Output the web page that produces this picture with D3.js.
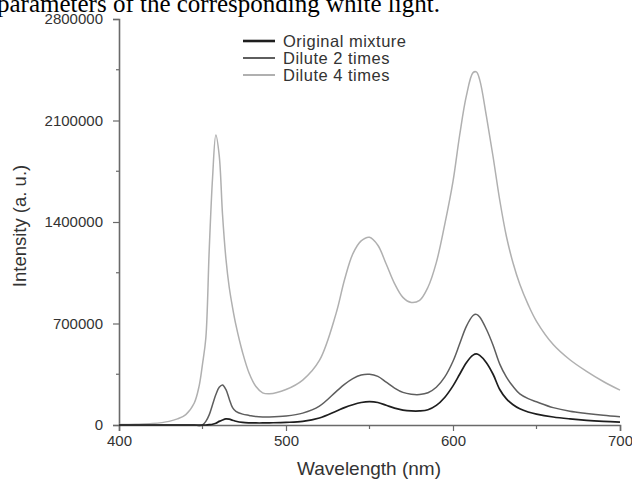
<!DOCTYPE html>
<html>
<head>
<meta charset="utf-8">
<script src="https://cdn.jsdelivr.net/npm/d3@7"></script>
<style>
	body { margin: 0; background: #fff; }
	svg { display: block; }
	text { font-family: "Liberation Sans", Arial, sans-serif; fill: #333; }
	.caption { font-family: "Liberation Serif", "Times New Roman", serif; fill: #000; }
</style>
</head>
<body>
<svg id="svgchart"></svg>
<script>
'use strict'

// wavelength grid (nm), shared by the three spectra
const wavelengths = [400, 410, 420, 430, 435, 440, 445, 448, 450, 452, 454, 456, 458, 460, 462, 464, 466, 468, 470, 474,
	478, 482, 486, 490, 500, 510, 520, 530, 535, 540, 545, 550, 555, 560, 565, 570, 575, 580, 585, 590,
	595, 600, 604, 608, 612, 614, 616, 620, 624, 628, 632, 636, 640, 645, 650, 660, 670, 680, 690, 700]

// intensities, in thousands (a. u.)
const original = [0, 0, 0, 0, 0, 0, 0, 0, 0, 0, 2, 5, 12, 25, 35, 42, 40, 33, 26, 18,
	15, 14, 14, 15, 18, 25, 48, 95, 120, 140, 155, 161, 155, 136, 116, 103, 97, 97, 105, 135,
	190, 270, 350, 430, 482, 490, 480, 430, 350, 245, 180, 140, 112, 90, 75, 55, 42, 32, 25, 20]

const dilute2 = [0, 0, 0, 0, 0, 0, 0, -5, 0, 25, 70, 140, 210, 260, 276, 245, 180, 120, 94, 75,
	66, 58, 55, 55, 62, 82, 130, 230, 280, 320, 345, 350, 335, 295, 255, 225, 212, 210, 222, 260,
	330, 440, 560, 680, 755, 763, 745, 660, 550, 420, 330, 265, 215, 182, 160, 120, 95, 80, 67, 57]

const dilute4 = [3, 5, 10, 25, 42, 72, 150, 270, 420, 600, 1200, 1700, 2000, 1860, 1450, 1150, 950, 810, 690, 500,
	355, 265, 222, 215, 245, 310, 445, 770, 1000, 1180, 1270, 1295, 1240, 1110, 975, 880, 845, 860, 950, 1120,
	1380, 1680, 2000, 2270, 2430, 2435, 2380, 2130, 1850, 1550, 1300, 1115, 970, 830, 715, 555, 450, 370, 300, 240]

const seriesNames  = ["Original mixture", "Dilute 2 times", "Dilute 4 times"]
const seriesColors = ["#1e1e1e", "#5e5e5e", "#b0b0b0"]
const seriesValues = [original, dilute2, dilute4]

const xTicks = [400, 500, 600, 700]
const yTicks = [0, 700000, 1400000, 2100000, 2800000]

const chartWidth  = 632,
		  chartHeight = 482

const svg = d3.select("#svgchart")
	.attr("width", chartWidth)
	.attr("height", chartHeight)

// cropped caption line from the page above the figure
svg.append("text")
	.attr("class", "caption")
	.attr("x", -3)
	.attr("y", 12)
	.style("font-size", "25px")
	.text("parameters of the corresponding white light.")

const x = d3.scaleLinear().domain([400, 700]).range([119, 620])
const y = d3.scaleLinear().domain([0, 2800000]).range([425, 19])

const axisColor = "#6a6a6a"

// minor ticks
const gMinor = svg.append("g")
gMinor.selectAll("line.xm")
	.data([450, 550, 650])
	.enter().append("line")
		.attr("x1", d => x(d)).attr("x2", d => x(d))
		.attr("y1", y(0)).attr("y2", y(0) + 4)
		.attr("stroke", axisColor).attr("stroke-width", 1.2)
gMinor.selectAll("line.ym")
	.data([350000, 1050000, 1750000, 2450000])
	.enter().append("line")
		.attr("x1", x(400) - 3).attr("x2", x(400))
		.attr("y1", d => y(d)).attr("y2", d => y(d))
		.attr("stroke", axisColor).attr("stroke-width", 1.2)

const xAxis = svg.append("g")
	.attr("transform", "translate(0," + y(0) + ")")
	.call(d3.axisBottom(x).tickValues(xTicks).tickSize(6).tickPadding(4).tickFormat(d3.format("d")))
const yAxis = svg.append("g")
	.attr("transform", "translate(" + x(400) + ",0)")
	.call(d3.axisLeft(y).tickValues(yTicks).tickSize(6).tickPadding(10).tickFormat(d3.format("d")))

for (const ax of [xAxis, yAxis]) {
	ax.select(".domain").attr("stroke", axisColor).attr("stroke-width", 1.6)
	ax.selectAll(".tick line").attr("stroke", axisColor).attr("stroke-width", 1.2)
	ax.selectAll(".tick text").style("font-size", "15px").attr("fill", "#444")
}

// spectra
const line = d3.line()
	.x((d, i) => x(wavelengths[i]))
	.y(d => y(d * 1000))
	.curve(d3.curveCatmullRom.alpha(0.5))

svg.append("g")
	.selectAll("path")
	.data(seriesValues.slice().reverse())
	.enter().append("path")
		.attr("d", line)
		.attr("fill", "none")
		.attr("stroke", (d, i) => seriesColors[2 - i])
		.attr("stroke-width", (d, i) => i === 2 ? 1.7 : 1.5)

// axis titles
svg.append("text")
	.attr("text-anchor", "middle")
	.attr("transform", "translate(26,226) rotate(-90)")
	.style("font-size", "18.5px")
	.attr("fill", "#444")
	.text("Intensity (a. u.)")

svg.append("text")
	.attr("text-anchor", "middle")
	.attr("x", 369)
	.attr("y", 475)
	.style("font-size", "19px")
	.attr("fill", "#444")
	.text("Wavelength (nm)")

// legend
const legend = svg.append("g")
	.selectAll("g")
	.data(seriesNames)
	.enter().append("g")
		.attr("transform", (d, i) => "translate(243," + (41 + i * 17) + ")")
legend.append("line")
	.attr("x1", 0).attr("x2", 32)
	.attr("stroke", (d, i) => seriesColors[i])
	.attr("stroke-width", (d, i) => i === 0 ? 2.6 : 2)
legend.append("text")
	.attr("x", 40)
	.attr("dy", "0.35em")
	.style("font-size", "16.5px")
	.style("letter-spacing", "0.5px")
	.attr("fill", "#444")
	.text(d => d)
</script>
</body>
</html>
